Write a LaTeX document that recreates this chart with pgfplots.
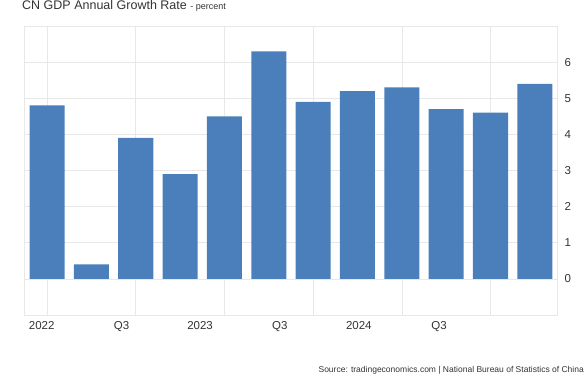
\documentclass[border=0pt]{standalone}
\usepackage{fontspec}
\setmainfont{Liberation Sans}
\usepackage{pgfplots}
\pgfplotsset{compat=1.18}
\definecolor{barblue}{RGB}{74,127,188}
\definecolor{txt}{RGB}{51,51,51}
\definecolor{gridc}{RGB}{232,232,232}
\begin{document}
\begin{tikzpicture}[x=1pt,y=1pt]
\path[use as bounding box] (0,0) rectangle (585,375);
\begin{axis}[
  at={(24pt,60pt)}, anchor=south west,
  width=533pt, height=289pt, scale only axis,
  xmin=-0.52, xmax=11.5, ymin=-1, ymax=7,
  axis line style={gridc},
  xtick={-0.12,1.68,3.45,5.25,7.03,8.84},
  xticklabels={2022,Q3,2023,Q3,2024,Q3},
  extra x ticks={0,2,4,6,8,10},
  extra x tick labels={},
  extra x tick style={grid=major, major tick length=0pt},
  ytick={0,1,2,3,4,5,6},
  yticklabel pos=right,
  ymajorgrids,
  grid style={gridc, line width=0.6pt},
  major tick length=0pt,
  tick label style={font=\fontsize{11.5}{13}\selectfont, text=txt},
  xticklabel style={yshift=-3pt},
  yticklabel style={xshift=4pt},
  /pgf/number format/assume math mode=true,
]
\addplot[ybar, bar width=0.79, fill=barblue, draw=none] coordinates {
 (0,4.8) (1,0.4) (2,3.9) (3,2.9) (4,4.5) (5,6.3) (6,4.9) (7,5.2) (8,5.3) (9,4.7) (10,4.6) (11,5.4)
};
\end{axis}
\node[anchor=base west, inner sep=0pt, text=txt] at (22,365) {\fontsize{12.5}{14}\selectfont CN GDP Annual Growth Rate \fontsize{9}{10}\selectfont - percent};
\node[anchor=south east, inner sep=0pt, text=txt] at (584,1) {\fontsize{8.5}{10}\selectfont Source: tradingeconomics.com | National Bureau of Statistics of China};
\end{tikzpicture}
\end{document}
